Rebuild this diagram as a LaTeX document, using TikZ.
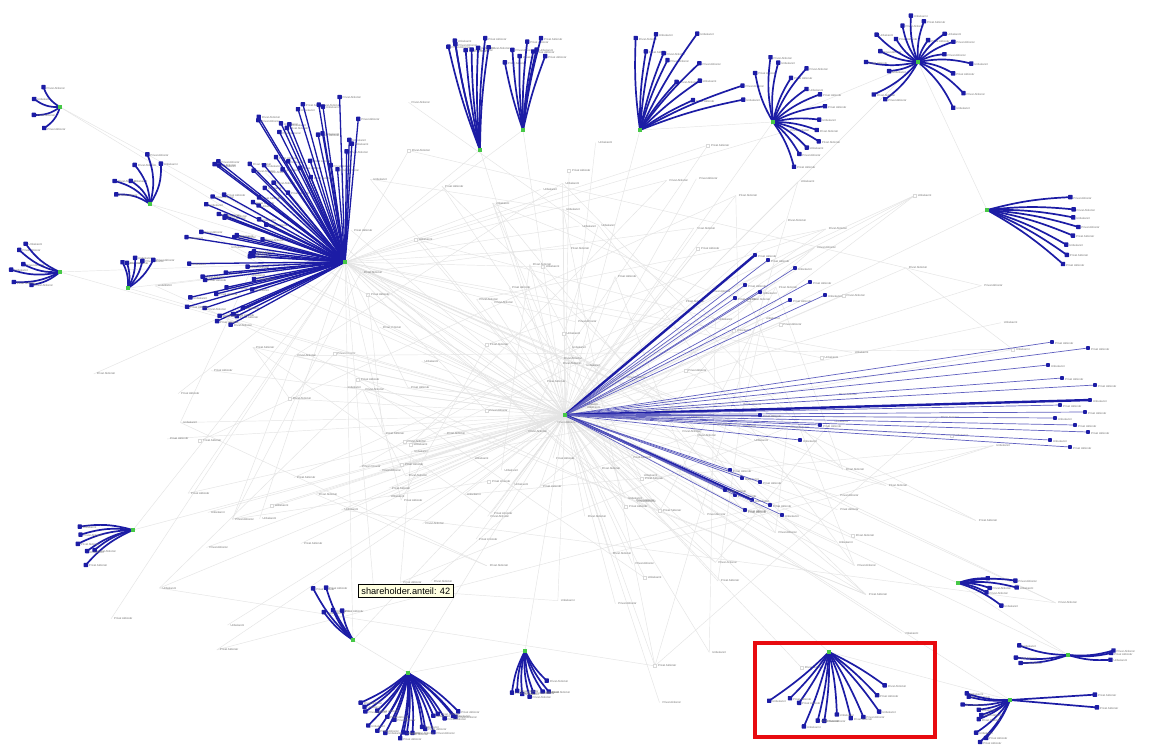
\documentclass[tikz,border=0pt]{standalone}
\usepackage{fontspec}
\setmainfont{Liberation Sans}
\usetikzlibrary{calc}

\definecolor{edgeblue}{RGB}{28,28,165}
\definecolor{hubgreen}{RGB}{70,200,70}
\definecolor{webgrey}{RGB}{228,228,228}
\definecolor{tipyellow}{RGB}{255,255,225}
\definecolor{markred}{RGB}{232,10,15}
\definecolor{lblgrey}{RGB}{115,115,115}

\tikzset{
  spoke/.style={draw=edgeblue, line width=1.7pt, line cap=round},
  leaf/.style={fill=edgeblue, draw=none, minimum size=4.4pt, inner sep=0pt, rectangle, rounded corners=0.6pt},
  hub/.style={fill=hubgreen, draw=none, minimum size=4.6pt, inner sep=0pt},
  lbl/.style={font=\fontsize{2.8}{3}\selectfont, text=lblgrey, inner sep=0.9pt},
  web/.style={draw=webgrey, line width=0.45pt},
  gnode/.style={draw=black!15, fill=white, minimum size=3pt, inner sep=0pt, line width=0.3pt},
  heavy/.style={draw=edgeblue, line width=2.4pt, line cap=round},
  light/.style={draw=edgeblue!70, line width=0.7pt},
  tipbox/.style={draw=black, line width=0.8pt, fill=tipyellow, font=\fontsize{9.2}{10}\selectfont, inner xsep=3pt, inner ysep=3.2pt},
  markbox/.style={draw=markred, line width=4pt},
}

% label text for an entity, chosen by index
\newcommand{\entname}[1]{%
  \pgfmathtruncatemacro{\entm}{mod(#1,3)}%
  \ifnum\entm=0 Unbekannt\else Privat Aktionär\fi}

% a hub with n leaves spread between two angles
% #1 name, #2 #3 position, #4 #5 angles, #6 count, #7 #8 radii, #9 extra edge style
\newcommand{\fanout}[9]{%
  \coordinate (#1) at (#2,#3);
  \foreach \k in {1,...,#6}{%
    \pgfmathsetmacro{\ang}{#4+(#5-#4)*(\k-0.5)/#6+3*rand}%
    \pgfmathsetmacro{\len}{#7+(#8-#7)*rnd}%
    \coordinate (#1-\k) at ($(#1)+(\ang:\len)$);
    \draw[spoke,#9] (#1) to (#1-\k);
    \node[leaf] (#1-d\k) at (#1-\k) {};
    \node[lbl,anchor=west] (#1-t\k) at ($(#1-\k)+(2,1)$) {\entname{\k}};
  }%
  \node[hub] (#1-h) at (#1) {};
}

\begin{document}
\begin{tikzpicture}[x=1pt,y=-1pt]
\fill[white] (0,0) rectangle (1155,745);
\useasboundingbox (0,0) rectangle (1155,745);
\pgfmathsetseed{4242}

% main hubs
\coordinate (S) at (345,262);
\coordinate (T) at (565,415);

% grey web of minor holdings
\foreach \i in {1,...,175}{%
  \pgfmathsetmacro{\gx}{max(20,min(1120,565+540*rand*(0.3+0.7*rnd)))}%
  \pgfmathsetmacro{\gy}{max(18,min(725,400+330*rand*(0.3+0.7*rnd)))}%
  \coordinate (g\i) at (\gx,\gy);
  \ifnum\i<116
    \draw[web] (T) -- (g\i);
  \else\ifnum\i<150
    \draw[web] (S) -- (g\i);
  \else
    \pgfmathtruncatemacro{\gj}{1+int(rnd*(\i-2))}%
    \draw[web] (g\gj) -- (g\i);
  \fi\fi
}
\foreach \i in {1,...,60}{%
  \pgfmathtruncatemacro{\ga}{1+int(rnd*174)}%
  \pgfmathtruncatemacro{\gb}{1+int(rnd*174)}%
  \draw[web] (g\ga) -- (g\gb);
}
\foreach \i in {1,...,175}{%
  \pgfmathtruncatemacro{\gm}{mod(\i,5)}%
  \ifnum\gm=0 \node[gnode] (gn\i) at (g\i) {};\fi
  \node[lbl,anchor=west] (gl\i) at ($(g\i)+(2,0)$) {\entname{\i}};
}

% links between the hubs
\foreach \hx/\hy [count=\n] in {60/107,150/204,60/272,128/288,480/150,523/130,640/130,773/122,918/62,987/210,133/530,353/640,408/673,525/651,829/652,958/583,1068/655,1010/700}{%
  \coordinate (hl\n) at (\hx,\hy);
  \draw[web] (T) -- (hl\n);
}
\foreach \a/\b in {hl1/S,hl2/S,hl3/S,hl4/S,hl5/S,hl6/S,hl11/S,hl12/S,hl10/hl9,hl8/hl9,hl15/hl18,hl16/hl17,hl13/hl12,hl14/hl13,hl7/hl8}{%
  \draw[web] (\a) -- (\b);
}

% holdings of the central shareholder
\foreach \x/\y/\w [count=\k] in {
  755/255/heavy, 768/260/light, 795/268/light, 810/282/light, 745/285/light,
  760/292/light, 735/298/light, 790/300/light, 825/295/light,
  1052/342/light, 1088/348/light, 1048/365/light, 1062/378/light, 1095/385/light,
  1090/400/heavy, 1060/405/light, 1085/412/light, 1055/418/light, 1075/425/light,
  1088/432/light, 1050/440/light, 1070/447/light,
  820/425/light, 800/440/light, 760/415/light,
  730/470/light, 742/478/light, 760/482/light, 735/495/light, 752/500/heavy,
  770/505/light, 745/510/light, 782/515/light, 725/490/light}{%
  \coordinate (T-\k) at (\x,\y);
  \draw[\w] (T) -- (T-\k);
  \node[leaf,minimum size=3.8pt] (T-d\k) at (T-\k) {};
  \node[lbl,anchor=west] (T-t\k) at ($(T-\k)+(2,1)$) {\entname{\k}};
}
\node[hub] (T-h) at (T) {};

% the fans
\fanout{S}{345}{262}{150}{276}{72}{85}{170}{line width=1.3pt}
\fanout{A}{60}{107}{112}{250}{4}{25}{36}{bend left=20}
\fanout{B}{150}{204}{185}{295}{6}{30}{58}{bend right=18}
\fanout{C}{60}{272}{150}{225}{6}{30}{50}{bend left=15}
\fanout{D}{128}{288}{250}{318}{5}{25}{40}{bend right=15}
\fanout{E}{480}{150}{250}{278}{8}{100}{113}{bend left=4}
\fanout{F}{523}{130}{255}{290}{8}{70}{95}{bend left=4}
\fanout{G}{640}{130}{262}{345}{12}{60}{115}{bend left=5}
\fanout{H}{773}{122}{245}{430}{14}{38}{72}{bend left=10}
\fanout{I}{918}{62}{120}{420}{18}{22}{58}{bend left=12}
\fanout{J}{987}{210}{-12}{40}{8}{82}{95}{bend left=6}
\fanout{K}{133}{530}{138}{185}{6}{40}{62}{bend right=12}
\fanout{L}{353}{640}{222}{250}{5}{30}{72}{bend left=10}
\fanout{M}{408}{673}{32}{150}{22}{48}{66}{bend left=8}
\fanout{N}{525}{651}{50}{110}{8}{35}{48}{bend right=10}
\fanout{O}{829}{652}{28}{145}{12}{55}{82}{bend left=5}
\fanout{P}{958}{583}{-15}{30}{6}{30}{60}{bend left=10}
\fanout{Q}{1068}{655}{165}{195}{3}{42}{56}{bend left=10}
\fanout{R}{1068}{655}{-12}{12}{3}{40}{50}{bend right=10}
\fanout{U}{1010}{700}{115}{195}{9}{32}{52}{bend left=10}
\fanout{V}{1010}{700}{-5}{10}{2}{80}{92}{}

% hovered share value
\node[tipbox,anchor=north west] (tip) at (358,584) {shareholder.anteil: 42};

% highlighted group
\draw[markbox] (755,643) rectangle (935,737);
\end{tikzpicture}
\end{document}
